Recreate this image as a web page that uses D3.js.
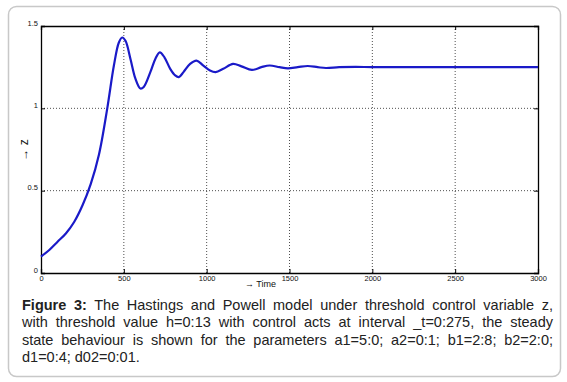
<!DOCTYPE html>
<html><head><meta charset="utf-8">
<script src="https://cdn.jsdelivr.net/npm/d3@7"></script>
<style>
html,body{margin:0;padding:0;background:#fff;}
svg{display:block;}
</style></head>
<body>
<svg id="chart" width="567" height="382"></svg>
<script>
const time = [0,50,100,150,200,250,300,350,400,440,470,490,510,540,570,600,620,660,690,717,745,780,810,832,860,900,939,980,1020,1054,1100,1159,1210,1273,1330,1380,1440,1490,1550,1610,1670,1720,1800,1900,2000,2200,2400,2600,2800,3000];
const zValues = [0.10,0.14,0.19,0.24,0.31,0.41,0.54,0.72,1.00,1.26,1.40,1.43,1.41,1.30,1.18,1.12,1.13,1.22,1.30,1.34,1.31,1.24,1.20,1.19,1.22,1.27,1.29,1.26,1.23,1.22,1.24,1.27,1.255,1.233,1.25,1.26,1.25,1.243,1.25,1.257,1.25,1.245,1.25,1.252,1.25,1.25,1.25,1.25,1.25,1.25];
const xTicks = [0,500,1000,1500,2000,2500,3000];
const yTicks = [0,0.5,1,1.5];
const captionBold = "Figure 3:";
const captionLines = [
  " The Hastings and Powell model under threshold control variable z,",
  "with threshold value h=0:13 with control acts at interval _t=0:275, the steady",
  "state behaviour is shown for the parameters a1=5:0; a2=0:1; b1=2:8; b2=2:0;",
  "d1=0:4; d02=0:01."
];

const svg = d3.select("#chart");
// outer frame
svg.append("rect").attr("x",8.5).attr("y",6.5).attr("width",552).attr("height",370)
  .attr("rx",8).attr("fill","#fff").attr("stroke","#c8c8c8").attr("stroke-width",1.5);

const L=41, R=538, T=26, B=273;
const x = d3.scaleLinear().domain([0,3000]).range([L,R]);
const y = d3.scaleLinear().domain([0,1.5]).range([B,T]);

// grid
const g = svg.append("g");
g.selectAll(".vg").data(xTicks.slice(1,-1)).enter().append("line")
  .attr("x1",d=>x(d)).attr("x2",d=>x(d)).attr("y1",T).attr("y2",B)
  .attr("stroke","#222").attr("stroke-width",0.8).attr("stroke-dasharray","1,2");
g.selectAll(".hg").data(yTicks.slice(1,-1)).enter().append("line")
  .attr("y1",d=>y(d)).attr("y2",d=>y(d)).attr("x1",L).attr("x2",R)
  .attr("stroke","#222").attr("stroke-width",0.8).attr("stroke-dasharray","1,2");

// axes
const fontTick = "'Liberation Sans Narrow','Liberation Sans',Arial,sans-serif";
const xa = svg.append("g").attr("transform",`translate(0,${B})`)
  .call(d3.axisBottom(x).tickValues(xTicks).tickSize(-4).tickPadding(3).tickFormat(d3.format("d")));
const xt = svg.append("g").attr("transform",`translate(0,${T})`)
  .call(d3.axisTop(x).tickValues(xTicks).tickSize(-4).tickFormat(""));
const ya = svg.append("g").attr("transform",`translate(${L},0)`)
  .call(d3.axisLeft(y).tickValues(yTicks).tickSize(-4).tickPadding(3).tickFormat(d=>d===0?"0":String(d)));
const yr = svg.append("g").attr("transform",`translate(${R},0)`)
  .call(d3.axisRight(y).tickValues(yTicks).tickSize(-4).tickFormat(""));
[xa,xt,ya,yr].forEach(a=>{
  a.select(".domain").attr("stroke","#000").attr("stroke-width",1.3);
  a.selectAll(".tick line").attr("stroke","#000");
  a.selectAll("text").attr("font-family",fontTick).attr("font-size",7.5).attr("fill","#111");
});
ya.selectAll("text").attr("dy","-0.1em");

// curve
const data = time.map((t,i)=>({t, v:zValues[i]}));
svg.append("path").datum(data)
  .attr("fill","none").attr("stroke","#1a1ac8").attr("stroke-width",2.2)
  .attr("d", d3.line().x(d=>x(d.t)).y(d=>y(d.v)).curve(d3.curveCatmullRom.alpha(0.5)));

// axis labels
svg.append("text").attr("x",245).attr("y",287).attr("font-family",fontTick)
  .attr("font-size",9).attr("fill","#111").text("\u2192 Time");
svg.append("text").attr("transform","translate(28,150) rotate(-90)").attr("text-anchor","middle")
  .attr("font-family",fontTick).attr("font-size",12).attr("fill","#111").text("\u2192 z");

// caption
const capX = 22, capW = 531, base0 = 310, lh = 17.4;
const capFont = "'Liberation Sans',Arial,sans-serif";
captionLines.forEach((line,i)=>{
  const t = svg.append("text").attr("x",capX).attr("y",base0+i*lh)
    .attr("font-family",capFont).attr("font-size",14.5).attr("fill","#222").attr("xml:space","preserve");
  if(i===0){
    t.append("tspan").attr("font-weight","bold").text(captionBold);
  }
  t.append("tspan").text(line);
  if(i<3){
    const w = t.node().getComputedTextLength();
    const full = (i===0? captionBold+line : line);
    const spaces = (full.match(/ /g)||[]).length;
    if(spaces>0) t.attr("word-spacing",(capW-w)/spaces);
  }
});
</script>
</body></html>
